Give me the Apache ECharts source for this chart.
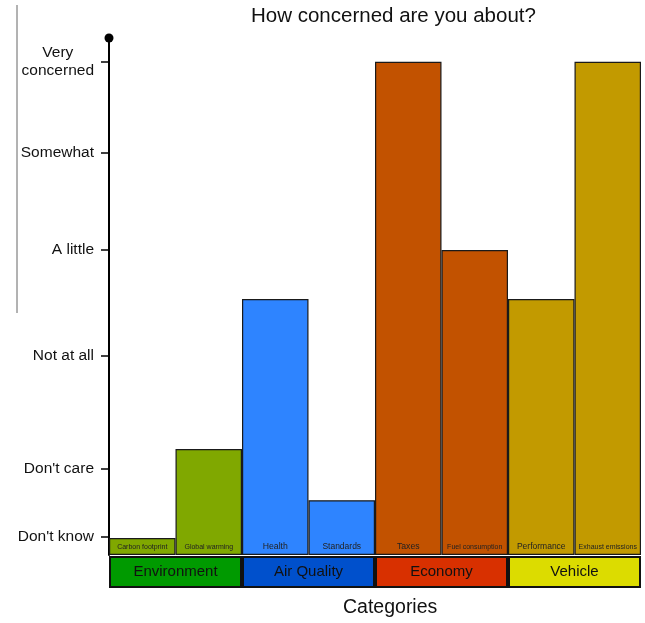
<!DOCTYPE html>
<html>
<head>
<meta charset="utf-8">
<script src="https://cdn.jsdelivr.net/npm/echarts@6/dist/echarts.min.js"></script>
<style>html,body{margin:0;padding:0;background:#fff}#c{width:645px;height:623px}</style>
</head>
<body>
<div id="c"></div>
<script>
// Data
const categories = ['Carbon footprint', 'Global warming', 'Health', 'Standards', 'Taxes', 'Fuel consumption', 'Performance', 'Exhaust emissions'];
const values = [3.3, 20.5, 49.5, 10.6, 95.4, 59.0, 49.5, 95.4];
const groups = ['Environment', 'Air Quality', 'Economy', 'Vehicle'];
const tickValues = [3.5, 16.6, 38.5, 59.0, 77.9, 95.4];
const tickLabels = ["Don't know", "Don't care", 'Not at all', 'A little', 'Somewhat', 'Very\nconcerned'];

// Styles
const barColors = ['#80a800', '#80a800', '#2e84ff', '#2e84ff', '#c25200', '#c25200', '#c29a00', '#c29a00'];
const labelSizes = [7, 7, 8.7, 8.5, 8.7, 7, 8.5, 7];
const groupColors = ['#009a00', '#0050cc', '#d83000', '#dcdc00'];
const FONT = 'Liberation Sans, Arial, sans-serif';

const chart = echarts.init(document.getElementById('c'), null, {renderer: 'canvas'});

const labelMap = {};
tickValues.forEach((v, i) => { labelMap[v] = tickLabels[i]; });

chart.setOption({
  animation: false,
  textStyle: {fontFamily: FONT},
  grid: [
    {left: 109, right: 4, top: 38, bottom: 68},
    {left: 109, right: 4, top: 556, height: 32}
  ],
  xAxis: [
    {type: 'category', gridIndex: 0, data: categories, show: false, boundaryGap: true},
    {type: 'category', gridIndex: 1, data: groups, show: false, boundaryGap: true}
  ],
  yAxis: [
    {
      type: 'value', gridIndex: 0, min: 0, max: 100,
      splitLine: {show: false},
      axisLine: {show: true, lineStyle: {color: '#000', width: 2}, symbol: ['none', 'circle'], symbolSize: [9, 9]},
      axisTick: {show: true, customValues: tickValues, length: 8, lineStyle: {color: '#000', width: 1.5}},
      axisLabel: {
        show: true, customValues: tickValues, margin: 15, color: '#111', fontSize: 15.5, fontFamily: FONT,
        lineHeight: 18,
        formatter: v => {
          const key = Object.keys(labelMap).find(k => Math.abs(+k - v) < 1e-6);
          const t = labelMap[key] || '';
          return t.includes('\n') ? t.split('\n').map(s => '{c|' + s + '}').join('\n') : t;
        },
        rich: {c: {align: 'center', fontSize: 15.5, color: '#111', lineHeight: 18, fontFamily: FONT}}
      }
    },
    {type: 'value', gridIndex: 1, min: 0, max: 1, show: false}
  ],
  series: [
    {
      type: 'bar', xAxisIndex: 0, yAxisIndex: 0, barWidth: '100%', barGap: '0%',
      data: values.map((v, i) => ({
        value: v,
        itemStyle: {color: barColors[i]},
        label: {fontSize: labelSizes[i]}
      })),
      itemStyle: {borderColor: '#1a1a1a', borderWidth: 1.2},
      label: {show: true, position: 'insideBottom', distance: 4, formatter: p => categories[p.dataIndex], color: '#222', fontFamily: FONT}
    },
    {
      type: 'bar', xAxisIndex: 1, yAxisIndex: 1, barWidth: '100%',
      data: groups.map((g, i) => ({value: 1, itemStyle: {color: groupColors[i]}})),
      itemStyle: {borderColor: '#111', borderWidth: 2},
      label: {show: true, position: 'inside', formatter: p => groups[p.dataIndex], color: '#111', fontSize: 15, fontFamily: FONT}
    }
  ],
  graphic: [
    {type: 'text', left: 251, top: 6, style: {text: 'How concerned are you about?', fontSize: 20.5, fill: '#111', fontFamily: FONT}},
    {type: 'text', left: 343, top: 598, style: {text: 'Categories', fontSize: 19.5, fill: '#111', fontFamily: FONT}},
    {type: 'line', shape: {x1: 17, y1: 5, x2: 17, y2: 313}, style: {stroke: '#666', lineWidth: 1}}
  ]
});
</script>
</body>
</html>
